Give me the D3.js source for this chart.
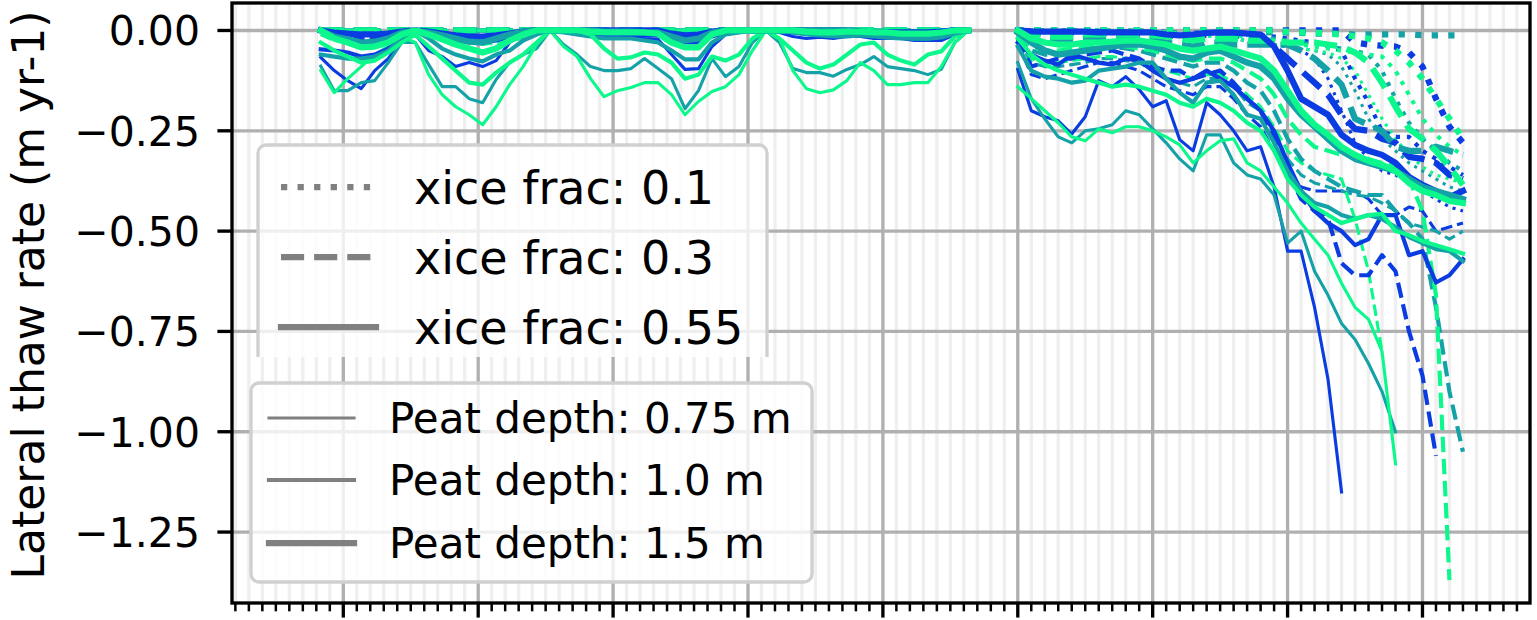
<!DOCTYPE html>
<html><head><meta charset="utf-8">
<script src="https://cdn.jsdelivr.net/npm/d3@7"></script>
<style>body{margin:0;background:#fff} svg{display:block} text{font-family:"DejaVu Sans",sans-serif;fill:#000}</style>
</head><body><svg id="c" width="1537" height="620"></svg>
<script>
// ---------------- DATA ----------------
const xBlockA = [-1.67,-0.67,0.33,1.33,2.33,3.33,4.33,5.33,6.33,7.33,8.33,9.33,10.33,11.33,12.33,13.33,14.33,15.33,16.33,17.33,18.33,19.33,20.33,21.33,22.33,23.33,24.33,25.33,26.33,27.33,28.33,29.33,30.33,31.33,32.33,33.33,34.33,35.33,36.33,37.33,38.33,39.33,40.33,41.33,42.33,43.33,44.33,45.33,46.33];
const xBlockB = [50,51,52,53,54,55,56,57,58,59,60,61,62,63,64,65,66,67,68,69,70,71,72,73,74,75,76,77,78,79,80,81,82,83];
const yTickValues = [0,-0.25,-0.5,-0.75,-1.0,-1.25];
const yTickLabels = ["0.00","\u22120.25","\u22120.50","\u22120.75","\u22121.00","\u22121.25"];
const xMajorTicks = [0,10,20,30,40,50,60,70,80];
const xiceFracs = [0.1, 0.3, 0.55];
const peatDepths = [0.75, 1.0, 1.5];
const colorNames = ["blue","teal","green"];
const xiceLabels = ["xice frac: 0.1","xice frac: 0.3","xice frac: 0.55"];
const peatLabels = ["Peat depth: 0.75 m","Peat depth: 1.0 m","Peat depth: 1.5 m"];

const flatA = [0,0,0,0,0,0,0,0,0,0,0,0,0,0,0,0,0,0,0,0,0,0,0,0,0,0,0,0,0,0,0,0,0,0,0,0,0,0,0,0,0,0,0,0,0,0,0,0,0];

// xice 0.55 (solid), block A
const solid075BlueA = [-0.067,-0.1,-0.125,-0.145,-0.1,-0.07,-0.025,-0.01,-0.05,-0.065,-0.09,-0.08,-0.09,-0.075,-0.03,-0.01,0,0,0,-0.01,-0.015,-0.018,-0.018,-0.017,-0.02,-0.022,-0.06,-0.097,-0.095,-0.04,-0.01,-0.005,0,0,-0.005,-0.015,-0.02,-0.017,-0.02,-0.015,-0.015,-0.02,-0.02,-0.02,-0.025,-0.025,-0.025,-0.01,0];
const solid075TealA = [-0.089,-0.15,-0.15,-0.13,-0.125,-0.08,-0.03,-0.03,-0.085,-0.14,-0.14,-0.17,-0.18,-0.122,-0.08,-0.06,-0.045,0,-0.035,-0.06,-0.09,-0.1,-0.1,-0.095,-0.07,-0.095,-0.12,-0.195,-0.15,-0.07,-0.115,-0.09,-0.03,0,-0.03,-0.095,-0.105,-0.105,-0.114,-0.097,-0.085,-0.065,-0.09,-0.095,-0.1,-0.11,-0.097,-0.03,0];
const solid075GreenA = [-0.1,-0.155,-0.12,-0.09,-0.06,-0.04,-0.015,-0.03,-0.11,-0.16,-0.19,-0.21,-0.235,-0.19,-0.135,-0.09,-0.035,0,-0.04,-0.065,-0.12,-0.165,-0.15,-0.142,-0.13,-0.13,-0.16,-0.21,-0.177,-0.152,-0.14,-0.11,-0.05,0,-0.02,-0.1,-0.145,-0.155,-0.148,-0.125,-0.08,-0.1,-0.135,-0.135,-0.13,-0.13,-0.09,-0.03,0];
const solid100BlueA = [-0.047,-0.05,-0.055,-0.065,-0.06,-0.045,-0.02,0,-0.01,-0.02,-0.025,-0.03,-0.03,-0.025,-0.015,-0.005,0,0,0,-0.005,-0.01,-0.01,-0.01,-0.01,-0.012,-0.012,-0.02,-0.03,-0.03,-0.015,-0.005,0,0,0,0,-0.005,-0.008,-0.01,-0.01,-0.01,-0.008,-0.01,-0.01,-0.012,-0.015,-0.015,-0.012,-0.005,0];
const solid100TealA = [-0.06,-0.065,-0.07,-0.07,-0.065,-0.05,-0.02,0,-0.02,-0.045,-0.06,-0.07,-0.077,-0.06,-0.05,-0.025,-0.01,0,-0.005,-0.01,-0.015,-0.02,-0.02,-0.02,-0.025,-0.03,-0.05,-0.072,-0.072,-0.03,-0.01,-0.005,0,0,0,-0.005,-0.01,-0.012,-0.015,-0.015,-0.012,-0.015,-0.018,-0.02,-0.02,-0.02,-0.015,-0.005,0];
const solid100GreenA = [-0.03,-0.05,-0.065,-0.08,-0.075,-0.055,-0.03,-0.01,-0.04,-0.07,-0.1,-0.13,-0.135,-0.105,-0.08,-0.06,-0.03,0,0,0,-0.01,-0.045,-0.07,-0.067,-0.055,-0.06,-0.08,-0.12,-0.11,-0.065,-0.075,-0.06,-0.02,0,-0.02,-0.05,-0.08,-0.095,-0.085,-0.06,-0.035,-0.03,-0.06,-0.075,-0.085,-0.06,-0.052,-0.015,0];
const solid150BlueA = [0,-0.005,-0.008,-0.01,-0.01,-0.008,-0.003,0,-0.003,-0.008,-0.012,-0.015,-0.015,-0.012,-0.008,-0.003,0,0,0,0,0,0,0,0,0,0,-0.008,-0.012,-0.01,-0.003,0,0,0,0,0,0,0,0,0,0,-0.003,-0.005,-0.005,-0.005,-0.005,-0.005,-0.003,0,0];
const solid150TealA = [0,-0.015,-0.022,-0.03,-0.028,-0.02,-0.005,0,-0.005,-0.012,-0.02,-0.028,-0.03,-0.02,-0.01,-0.003,0,0,0,0,0,-0.003,-0.003,-0.003,-0.005,-0.005,-0.015,-0.025,-0.02,-0.005,0,0,0,0,0,0,0,0,0,0,-0.005,-0.008,-0.01,-0.015,-0.018,-0.018,-0.015,-0.005,0];
const solid150GreenA = [0,-0.02,-0.03,-0.042,-0.04,-0.03,-0.01,0,-0.01,-0.022,-0.035,-0.045,-0.055,-0.045,-0.025,-0.01,0,0,0,0,-0.003,-0.005,-0.005,-0.005,-0.005,-0.008,-0.03,-0.042,-0.042,-0.01,0,0,0,0,0,0,-0.003,-0.005,-0.005,-0.003,-0.003,-0.005,-0.005,-0.008,-0.008,-0.008,-0.005,0,0];
// xice 0.3 (dashed), block A
const dash075BlueA = [0,-0.01,-0.015,-0.02,-0.02,-0.015,-0.005,0,-0.005,-0.01,-0.015,-0.02,-0.02,-0.015,-0.01,-0.005,0,0,0,0,0,0,0,0,0,0,-0.005,-0.01,-0.01,-0.005,0,0,0,0,0,0,0,0,0,0,0,0,0,0,0,0,0,0,0];
const dash075TealA = [-0.01,-0.02,-0.025,-0.03,-0.03,-0.02,-0.008,0,-0.005,-0.012,-0.02,-0.025,-0.03,-0.025,-0.015,-0.005,0,0,0,0,0,-0.003,-0.005,-0.005,-0.005,-0.005,-0.01,-0.018,-0.015,-0.005,0,0,0,0,0,0,0,0,0,0,0,0,0,0,0,0,0,0,0];
const dash075GreenA = [-0.01,-0.025,-0.03,-0.035,-0.035,-0.025,-0.01,0,-0.005,-0.015,-0.025,-0.03,-0.035,-0.03,-0.025,-0.02,-0.005,0,0,0,0,-0.005,-0.008,-0.008,-0.008,-0.01,-0.015,-0.025,-0.02,-0.01,0,0,0,0,0,0,0,0,0,0,0,0,0,0,0,0,0,0,0];

// block B, xice 0.55 (solid)
const solid075BlueB = [-0.097,-0.2,-0.215,-0.225,-0.258,-0.215,-0.125,-0.14,-0.115,-0.147,-0.19,-0.175,-0.272,-0.3,-0.18,-0.21,-0.25,-0.3,-0.29,-0.39,-0.55,-0.55,-0.69,-0.87,-1.15,null,null,null,null,null,null,null,null,null];
const solid075TealB = [-0.08,-0.17,-0.22,-0.265,-0.28,-0.25,-0.245,-0.235,-0.2,-0.21,-0.245,-0.28,-0.32,-0.35,-0.26,-0.26,-0.33,-0.36,-0.37,-0.41,-0.53,-0.5,-0.6,-0.66,-0.73,-0.77,-0.83,-0.9,-1.0,null,null,null,null,null];
const solid075GreenB = [-0.14,-0.17,-0.2,-0.23,-0.265,-0.275,-0.245,-0.255,-0.24,-0.24,-0.25,-0.265,-0.285,-0.33,-0.3,-0.275,-0.27,-0.33,-0.35,-0.39,-0.43,-0.48,-0.52,-0.56,-0.63,-0.69,-0.72,-0.8,-1.08,null,null,null,null,null];
const solid100BlueB = [-0.03,-0.06,-0.075,-0.085,-0.06,-0.07,-0.08,-0.085,-0.07,-0.075,-0.1,-0.12,-0.13,-0.12,-0.1,-0.12,-0.14,-0.17,-0.2,-0.25,-0.33,-0.4,-0.45,-0.48,-0.5,-0.535,-0.52,-0.46,-0.46,-0.56,-0.55,-0.628,-0.61,-0.57];
const solid100TealB = [-0.04,-0.1,-0.115,-0.12,-0.13,-0.125,-0.1,-0.095,-0.09,-0.08,-0.08,-0.12,-0.155,-0.18,-0.13,-0.125,-0.16,-0.21,-0.22,-0.28,-0.35,-0.4,-0.43,-0.44,-0.46,-0.47,-0.46,-0.47,-0.49,-0.515,-0.53,-0.545,-0.55,-0.575];
const solid100GreenB = [-0.02,-0.06,-0.085,-0.1,-0.11,-0.12,-0.13,-0.14,-0.135,-0.14,-0.15,-0.16,-0.18,-0.19,-0.17,-0.18,-0.2,-0.23,-0.25,-0.3,-0.37,-0.41,-0.44,-0.46,-0.48,-0.47,-0.46,-0.457,-0.5,-0.51,-0.525,-0.535,-0.545,-0.556];
const solid150BlueB = [0,-0.002,-0.003,-0.003,-0.003,-0.003,-0.005,-0.005,-0.005,-0.005,-0.005,-0.01,-0.012,-0.01,-0.006,-0.005,-0.005,-0.008,-0.01,-0.04,-0.1,-0.17,-0.19,-0.21,-0.26,-0.285,-0.3,-0.31,-0.33,-0.365,-0.385,-0.4,-0.415,-0.4];
const solid150TealB = [-0.005,-0.03,-0.05,-0.06,-0.055,-0.05,-0.045,-0.04,-0.035,-0.035,-0.04,-0.05,-0.065,-0.07,-0.055,-0.05,-0.065,-0.08,-0.09,-0.12,-0.17,-0.21,-0.24,-0.27,-0.3,-0.32,-0.33,-0.34,-0.35,-0.37,-0.39,-0.4,-0.41,-0.42];
const solid150GreenB = [0,-0.02,-0.03,-0.035,-0.035,-0.03,-0.03,-0.028,-0.025,-0.025,-0.03,-0.035,-0.045,-0.05,-0.045,-0.04,-0.05,-0.06,-0.07,-0.1,-0.15,-0.2,-0.235,-0.26,-0.29,-0.31,-0.325,-0.335,-0.35,-0.38,-0.4,-0.41,-0.425,-0.43];
// block B, xice 0.3 (dashed)
const dash075BlueB = [-0.03,-0.11,-0.12,-0.11,-0.1,-0.09,-0.08,-0.08,-0.09,-0.1,-0.12,-0.14,-0.15,-0.16,-0.14,-0.14,-0.17,-0.21,-0.24,-0.3,-0.36,-0.39,-0.4,-0.4,-0.4,-0.4,-0.42,-0.46,-0.46,-0.44,-0.45,-0.5,-0.49,-0.48];
const dash075TealB = [-0.02,-0.08,-0.09,-0.09,-0.085,-0.08,-0.07,-0.07,-0.075,-0.08,-0.1,-0.12,-0.13,-0.14,-0.12,-0.12,-0.14,-0.18,-0.2,-0.26,-0.32,-0.36,-0.38,-0.39,-0.4,-0.41,-0.414,-0.43,-0.449,-0.48,-0.49,-0.5,-0.52,-0.5];
const dash075GreenB = [-0.02,-0.07,-0.08,-0.08,-0.075,-0.07,-0.065,-0.065,-0.07,-0.075,-0.09,-0.1,-0.11,-0.12,-0.11,-0.11,-0.13,-0.16,-0.19,-0.24,-0.3,-0.33,-0.35,-0.36,-0.37,-0.47,-0.6,-0.8,null,null,null,null,null,null];
const dash100BlueB = [-0.02,-0.09,-0.08,-0.07,-0.07,-0.06,-0.055,-0.05,-0.06,-0.07,-0.09,-0.1,-0.1,-0.12,-0.11,-0.1,-0.13,-0.17,-0.2,-0.27,-0.35,-0.42,-0.45,-0.47,-0.58,-0.61,-0.61,-0.56,-0.6,-0.75,-0.86,-1.06,null,null];
const dash100TealB = [-0.01,-0.05,-0.06,-0.06,-0.055,-0.05,-0.045,-0.04,-0.045,-0.05,-0.06,-0.07,-0.08,-0.09,-0.08,-0.08,-0.1,-0.13,-0.15,-0.2,-0.27,-0.32,-0.35,-0.37,-0.39,-0.4,-0.41,-0.41,-0.45,-0.48,-0.52,-0.69,-0.9,-1.05];
const dash100GreenB = [-0.01,-0.04,-0.05,-0.05,-0.045,-0.04,-0.035,-0.035,-0.04,-0.045,-0.05,-0.06,-0.07,-0.075,-0.07,-0.07,-0.08,-0.1,-0.12,-0.16,-0.22,-0.26,-0.29,-0.3,-0.31,-0.31,-0.32,-0.33,-0.34,-0.37,-0.45,-0.66,-1.37,null];
const dash150BlueB = [0,-0.005,-0.005,-0.005,-0.005,-0.005,-0.005,-0.005,-0.005,-0.008,-0.01,-0.012,-0.015,-0.015,-0.01,-0.01,-0.012,-0.015,-0.02,-0.04,-0.07,-0.1,-0.13,-0.16,-0.21,-0.245,-0.25,-0.27,-0.28,-0.315,-0.32,-0.33,-0.36,-0.37];
const dash150TealB = [-0.005,-0.015,-0.02,-0.025,-0.025,-0.02,-0.02,-0.02,-0.02,-0.02,-0.025,-0.03,-0.035,-0.04,-0.03,-0.03,-0.035,-0.035,-0.035,-0.035,-0.035,-0.05,-0.07,-0.1,-0.135,-0.22,-0.235,-0.25,-0.29,-0.3,-0.3,-0.29,-0.3,-0.31];
const dash150GreenB = [0,-0.01,-0.015,-0.015,-0.015,-0.01,-0.01,-0.01,-0.01,-0.01,-0.012,-0.015,-0.02,-0.025,-0.02,-0.02,-0.02,-0.025,-0.025,-0.025,-0.03,-0.03,-0.03,-0.035,-0.04,-0.055,-0.08,-0.13,-0.19,-0.245,-0.27,-0.3,-0.34,-0.385];
// block B, xice 0.1 (dotted)
const dot075BlueB = [0,0,0,0,0,0,0,0,-0.003,-0.005,-0.008,-0.01,-0.012,-0.015,-0.015,-0.015,-0.02,-0.025,-0.03,-0.035,-0.04,-0.05,-0.07,-0.12,-0.2,-0.28,-0.32,-0.35,-0.36,-0.38,-0.4,-0.42,-0.44,-0.45];
const dot075TealB = [0,0,0,0,0,0,0,0,-0.003,-0.005,-0.008,-0.01,-0.012,-0.015,-0.015,-0.015,-0.02,-0.025,-0.03,-0.035,-0.04,-0.045,-0.05,-0.06,-0.09,-0.15,-0.22,-0.27,-0.3,-0.33,-0.35,-0.37,-0.39,-0.4];
const dot075GreenB = [0,0,0,0,0,0,0,0,-0.003,-0.005,-0.008,-0.01,-0.012,-0.015,-0.015,-0.015,-0.02,-0.025,-0.03,-0.035,-0.04,-0.045,-0.05,-0.055,-0.07,-0.1,-0.16,-0.22,-0.27,-0.31,-0.34,-0.36,-0.37,-0.38];
const dot100BlueB = [0,0,0,0,0,0,0,0,0,0,-0.002,-0.003,-0.005,-0.005,-0.005,-0.005,-0.008,-0.01,-0.012,-0.015,-0.02,-0.025,-0.03,-0.04,-0.05,-0.12,-0.18,-0.25,-0.265,-0.265,-0.3,-0.32,-0.34,-0.36];
const dot100TealB = [0,0,0,0,0,0,0,0,0,0,-0.003,-0.005,-0.005,-0.008,-0.008,-0.008,-0.01,-0.012,-0.015,-0.02,-0.025,-0.03,-0.035,-0.04,-0.045,-0.05,-0.06,-0.1,-0.17,-0.23,-0.27,-0.3,-0.33,-0.35];
const dot100GreenB = [0,0,0,0,0,0,0,0,0,0,-0.003,-0.005,-0.005,-0.008,-0.008,-0.01,-0.012,-0.015,-0.02,-0.025,-0.03,-0.035,-0.04,-0.045,-0.05,-0.055,-0.06,-0.065,-0.1,-0.16,-0.22,-0.26,-0.29,-0.31];
const dot150BlueB = [0,0,0,0,0,0,0,0,0,0,0,0,0,0,0,0,0,0,0,0,0,0,0,0,0,-0.03,-0.035,-0.038,-0.04,-0.055,-0.09,-0.17,-0.24,-0.28];
const dot150TealB = [0,0,0,0,0,0,0,0,0,0,0,0,0,0,0,0,0,0,-0.003,-0.005,-0.005,-0.006,-0.008,-0.008,-0.008,-0.01,-0.01,-0.01,-0.01,-0.01,-0.012,-0.012,-0.012,-0.012];
const dot150GreenB = [0,0,0,0,0,0,0,0,0,0,0,0,0,0,0,0,0,0,0,0,-0.003,-0.005,-0.005,-0.008,-0.01,-0.015,-0.02,-0.03,-0.05,-0.08,-0.12,-0.17,-0.22,-0.27];

// table: [xiceIndex, peatIndex, colorIndex, blockA, blockB]
const seriesTable = [
  [0,0,0,flatA,dot075BlueB],[0,0,1,flatA,dot075TealB],[0,0,2,flatA,dot075GreenB],
  [0,1,0,flatA,dot100BlueB],[0,1,1,flatA,dot100TealB],[0,1,2,flatA,dot100GreenB],
  [0,2,0,flatA,dot150BlueB],[0,2,1,flatA,dot150TealB],[0,2,2,flatA,dot150GreenB],
  [1,0,0,dash075BlueA,dash075BlueB],[1,0,1,dash075TealA,dash075TealB],[1,0,2,dash075GreenA,dash075GreenB],
  [1,1,0,flatA,dash100BlueB],[1,1,1,flatA,dash100TealB],[1,1,2,flatA,dash100GreenB],
  [1,2,0,flatA,dash150BlueB],[1,2,1,flatA,dash150TealB],[1,2,2,flatA,dash150GreenB],
  [2,0,0,solid075BlueA,solid075BlueB],[2,0,1,solid075TealA,solid075TealB],[2,0,2,solid075GreenA,solid075GreenB],
  [2,1,0,solid100BlueA,solid100BlueB],[2,1,1,solid100TealA,solid100TealB],[2,1,2,solid100GreenA,solid100GreenB],
  [2,2,0,solid150BlueA,solid150BlueB],[2,2,1,solid150TealA,solid150TealB],[2,2,2,solid150GreenA,solid150GreenB]
];

// ---------------- STYLE ----------------
const PX = 300/72; // points -> px
const palette = {blue:"#0a3ce2", teal:"#14a2a8", green:"#0cf88c"};
const dashPatterns = [[1,1.65],[3.7,1.6],null]; // by xice index (in units of line width)
const W = 1537, H = 620;
const plot = {left:232, right:1530, top:3, bottom:603};

const svg = d3.select("#c");
const x = d3.scaleLinear().domain([-8.25, 87.97]).range([plot.left, plot.right]);
const y = d3.scaleLinear().domain([0.0685, -1.4268]).range([plot.top, plot.bottom]);

// grid
const minorTicks = d3.range(-8, 88).filter(v => v % 10 !== 0);
const grid = svg.append("g");
grid.selectAll("line.mg").data(minorTicks).join("line")
  .attr("x1", d=>x(d)).attr("x2", d=>x(d)).attr("y1", plot.top).attr("y2", plot.bottom)
  .attr("stroke", "#efefef").attr("stroke-width", 0.8*PX);
grid.selectAll("line.Mg").data(xMajorTicks).join("line")
  .attr("x1", d=>x(d)).attr("x2", d=>x(d)).attr("y1", plot.top).attr("y2", plot.bottom)
  .attr("stroke", "#b0b0b0").attr("stroke-width", 0.8*PX);
grid.selectAll("line.hg").data(yTickValues).join("line")
  .attr("x1", plot.left).attr("x2", plot.right).attr("y1", d=>y(d)).attr("y2", d=>y(d))
  .attr("stroke", "#b0b0b0").attr("stroke-width", 0.8*PX);

// clip
svg.append("clipPath").attr("id","pc").append("rect")
  .attr("x", plot.left).attr("y", plot.top).attr("width", plot.right-plot.left).attr("height", plot.bottom-plot.top);

const lines = svg.append("g").attr("clip-path","url(#pc)");
function drawSeries(xs, ys, xi, pi, ci) {
  const lw = peatDepths[pi]*PX;
  const pts = xs.map((v,i)=>[v, ys[i]]);
  const gen = d3.line().defined(d=>d[1]!==null && d[1]!==undefined).x(d=>x(d[0])).y(d=>y(d[1]));
  const p = lines.append("path").attr("d", gen(pts))
    .attr("fill","none").attr("stroke", palette[colorNames[ci]])
    .attr("stroke-width", lw).attr("stroke-linejoin","round");
  const dp = dashPatterns[xi];
  if (dp) p.attr("stroke-dasharray", dp.map(v=>v*peatDepths[pi]*PX).join(",")).attr("stroke-linecap","butt");
  else p.attr("stroke-linecap","square");
}
seriesTable.forEach(([xi,pi,ci,a,b]) => {
  drawSeries(xBlockA, a, xi, pi, ci);
  drawSeries(xBlockB, b, xi, pi, ci);
});

// axes / spines
const ax = svg.append("g");
const spineW = 0.8*PX;
ax.append("rect").attr("x", plot.left).attr("y", plot.top).attr("width", plot.right-plot.left).attr("height", plot.bottom-plot.top)
  .attr("fill","none").attr("stroke","#000").attr("stroke-width", spineW);
ax.selectAll("line.xM").data(xMajorTicks).join("line")
  .attr("x1", d=>x(d)).attr("x2", d=>x(d)).attr("y1", plot.bottom).attr("y2", plot.bottom+3.5*PX)
  .attr("stroke","#000").attr("stroke-width", 0.8*PX);
ax.selectAll("line.xm").data(minorTicks).join("line")
  .attr("x1", d=>x(d)).attr("x2", d=>x(d)).attr("y1", plot.bottom).attr("y2", plot.bottom+2*PX)
  .attr("stroke","#000").attr("stroke-width", 0.6*PX);
ax.selectAll("line.yM").data(yTickValues).join("line")
  .attr("x1", plot.left-3.5*PX).attr("x2", plot.left).attr("y1", d=>y(d)).attr("y2", d=>y(d))
  .attr("stroke","#000").attr("stroke-width", 0.8*PX);
ax.selectAll("text.yl").data(yTickValues).join("text")
  .attr("x", 200).attr("y", d=>y(d)+15).attr("text-anchor","end")
  .attr("font-size", 41).text((d,i)=>yTickLabels[i]);
svg.append("text").attr("transform", `translate(44,${(plot.top+plot.bottom)/2 - 8}) rotate(-90)`)
  .attr("text-anchor","middle").attr("font-size", 44).text("Lateral thaw rate (m yr-1)");

// legend 1 (xice)
svg.append("clipPath").attr("id","l1c").append("rect").attr("x",0).attr("y",0).attr("width",W).attr("height",357);
const l1 = svg.append("g").attr("clip-path","url(#l1c)");
l1.append("rect").attr("x",258).attr("y",145).attr("width",509).attr("height",240).attr("rx",8)
  .attr("fill","#fff").attr("fill-opacity",0.8).attr("stroke","#d0d0d0").attr("stroke-width",0.8*PX);
const l1Rows = [187, 257, 327];
xiceLabels.forEach((t,i)=>{
  const ln = l1.append("line").attr("x1",281).attr("x2",376).attr("y1",l1Rows[i]).attr("y2",l1Rows[i])
    .attr("stroke","#808080").attr("stroke-width",1.5*PX);
  if (dashPatterns[i]) ln.attr("stroke-dasharray", dashPatterns[i].map(v=>v*1.5*PX).join(","));
  else ln.attr("stroke-linecap","square");
  l1.append("text").attr("x",414).attr("y",l1Rows[i]+17).attr("font-size",46).text(t);
});
// legend 2 (peat)
const l2 = svg.append("g");
l2.append("rect").attr("x",251).attr("y",383).attr("width",561).attr("height",199).attr("rx",8)
  .attr("fill","#fff").attr("fill-opacity",0.8).attr("stroke","#d0d0d0").attr("stroke-width",0.8*PX);
const l2Rows = [418, 480, 543];
peatLabels.forEach((t,i)=>{
  l2.append("line").attr("x1",269).attr("x2",354).attr("y1",l2Rows[i]).attr("y2",l2Rows[i])
    .attr("stroke","#808080").attr("stroke-width",peatDepths[i]*PX).attr("stroke-linecap","square");
  l2.append("text").attr("x",389).attr("y",l2Rows[i]+15).attr("font-size",42).text(t);
});
</script></body></html>
